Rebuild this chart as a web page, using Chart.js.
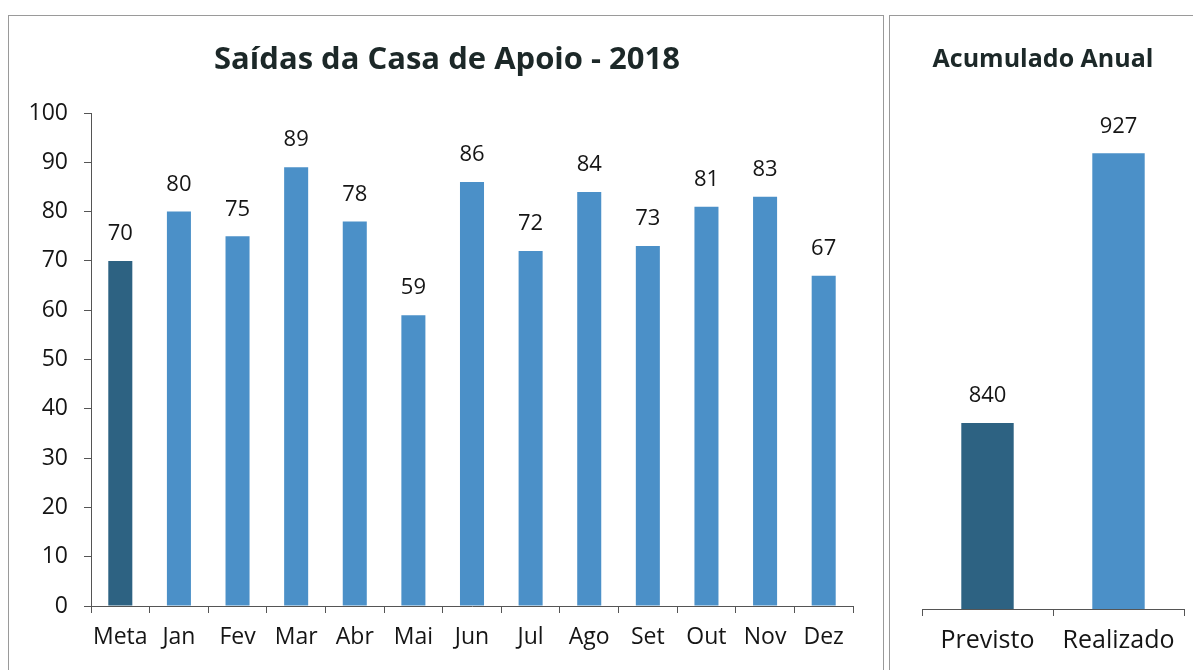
<!DOCTYPE html>
<html>
<head>
<meta charset="utf-8">
<script src="https://cdn.jsdelivr.net/npm/chart.js@4.4.1/dist/chart.umd.min.js"></script>
<style>
  html, body { margin: 0; padding: 0; background: #ffffff; }
  body { width: 1193px; height: 670px; position: relative; overflow: hidden; }
  .panel { position: absolute; border: 1px solid #9a9a9a; box-sizing: border-box; }
  #p1 { left: 8px; top: 15px; width: 876px; height: 670px; }
  #p2 { left: 889px; top: 15px; width: 320px; height: 670px; }
  #c1wrap { position: absolute; left: 8px; top: 15px; width: 875px; height: 655px; }
  #c2wrap { position: absolute; left: 889px; top: 15px; width: 304px; height: 655px; }
</style>
</head>
<body>
<div class="panel" id="p1"></div>
<div class="panel" id="p2"></div>
<div id="c1wrap"><canvas id="c1"></canvas></div>
<div id="c2wrap"><canvas id="c2"></canvas></div>
<script>
// ---- Data ----
const monthCategories = ["Meta", "Jan", "Fev", "Mar", "Abr", "Mai", "Jun", "Jul", "Ago", "Set", "Out", "Nov", "Dez"];
const monthValues = [70, 80, 75, 89, 78, 59, 86, 72, 84, 73, 81, 83, 67];
const yTickValues = [0, 10, 20, 30, 40, 50, 60, 70, 80, 90, 100];
const annualCategories = ["Previsto", "Realizado"];
const annualValues = [840, 927];
const mainTitle = "Saídas da Casa de Apoio - 2018";
const annualTitle = "Acumulado Anual";

// ---- Styles ----
const FONT = "'Open Sans', Lato, sans-serif";
const darkBlue = "#2d6282";
const midBlue = "#4b90c8";
const textColor = "#151515";
const titleColor = "#1c2828";
const axisColor = "#555555";

function barGradient(ctx, base) {
  const el = ctx.element;
  const chart = ctx.chart;
  if (!el || !chart.chartArea) return base;
  const x = el.x, w = el.width;
  if (!Number.isFinite(x) || !Number.isFinite(w) || w <= 0) return base;
  const c = chart.ctx;
  const x0 = x - w / 2, x1 = x + w / 2;
  const g = c.createLinearGradient(x0, 0, x1, 0);
  const darker = base === darkBlue ? "#23506b" : "#3d7fb5";
  const lighter = base === darkBlue ? "#336c8d" : "#579dd4";
  g.addColorStop(0, darker);
  g.addColorStop(0.15, base);
  g.addColorStop(0.5, lighter);
  g.addColorStop(0.85, base);
  g.addColorStop(1, darker);
  return g;
}

function makeValueLabels(size) {
  return {
    id: 'valueLabels',
    afterDatasetsDraw(chart) {
      const ctx = chart.ctx;
      const ds = chart.data.datasets[0];
      const meta = chart.getDatasetMeta(0);
      ctx.save();
      ctx.font = size + "px " + FONT;
      ctx.fillStyle = textColor;
      ctx.textAlign = 'center';
      ctx.textBaseline = 'middle';
      meta.data.forEach((bar, i) => {
        ctx.fillText(String(ds.data[i]), bar.x, bar.y - 27);
      });
      ctx.restore();
    }
  };
}

// Re-center the title block over a chosen horizontal span of the canvas
function titleSpan(left, right) {
  return {
    id: 'titleSpan',
    afterLayout(chart) {
      const t = chart.titleBlock;
      if (t) { t.left = left; t.right = right; }
    }
  };
}

const baseColors1 = monthCategories.map((c, i) => i === 0 ? darkBlue : midBlue);

new Chart(document.getElementById('c1'), {
  type: 'bar',
  data: {
    labels: monthCategories,
    datasets: [{
      data: monthValues,
      backgroundColor: (ctx) => barGradient(ctx, baseColors1[ctx.dataIndex]),
      barPercentage: 0.41,
      categoryPercentage: 1.0,
      borderWidth: 0
    }]
  },
  options: {
    responsive: true,
    maintainAspectRatio: false,
    animation: false,
    layout: { padding: { left: 0, right: 30, top: 0, bottom: 14 } },
    plugins: {
      legend: { display: false },
      tooltip: { enabled: false },
      title: {
        display: true,
        text: mainTitle,
        color: titleColor,
        font: { family: FONT, size: 31, weight: 'bold', lineHeight: 1.2 },
        padding: { top: 26.4, bottom: 34.4 }
      }
    },
    scales: {
      x: {
        grid: { display: true, offset: true, drawOnChartArea: false, drawTicks: true, tickLength: 7, color: axisColor },
        border: { display: true, color: axisColor, width: 1 },
        ticks: { color: textColor, font: { family: FONT, size: 23 }, padding: 11, maxRotation: 0, autoSkip: false },
        afterFit: (s) => { s.height = 50; }
      },
      y: {
        min: 0, max: 100,
        afterBuildTicks: (s) => { s.ticks = yTickValues.map(v => ({ value: v })); },
        grid: { display: true, drawOnChartArea: false, drawTicks: true, tickLength: 7, color: axisColor },
        border: { display: true, color: axisColor, width: 1 },
        ticks: { color: textColor, font: { family: FONT, size: 23 }, padding: 16 },
        afterFit: (s) => { s.width = 83; }
      }
    }
  },
  plugins: [makeValueLabels(22), titleSpan(0, 878)]
});

const baseColors2 = [darkBlue, midBlue];

new Chart(document.getElementById('c2'), {
  type: 'bar',
  data: {
    labels: annualCategories,
    datasets: [{
      data: annualValues,
      backgroundColor: (ctx) => barGradient(ctx, baseColors2[ctx.dataIndex]),
      barPercentage: 0.4,
      categoryPercentage: 1.0,
      borderWidth: 0
    }]
  },
  options: {
    responsive: true,
    maintainAspectRatio: false,
    animation: false,
    layout: { padding: { left: 33, right: 9, top: 0, bottom: 11 } },
    plugins: {
      legend: { display: false },
      tooltip: { enabled: false },
      title: {
        display: true,
        text: annualTitle,
        color: titleColor,
        font: { family: FONT, size: 25, weight: 'bold', lineHeight: 1.2 },
        padding: { top: 30, bottom: 38 }
      }
    },
    scales: {
      x: {
        grid: { display: true, offset: true, drawOnChartArea: false, drawTicks: true, tickLength: 7, color: axisColor },
        border: { display: true, color: axisColor, width: 1 },
        ticks: { color: textColor, font: { family: FONT, size: 25 }, padding: 10, maxRotation: 0, autoSkip: false },
        afterFit: (s) => { s.height = 50; }
      },
      y: {
        display: false,
        min: 780, max: 940
      }
    }
  },
  plugins: [makeValueLabels(22), titleSpan(0, 308)]
});
</script>
</body>
</html>
